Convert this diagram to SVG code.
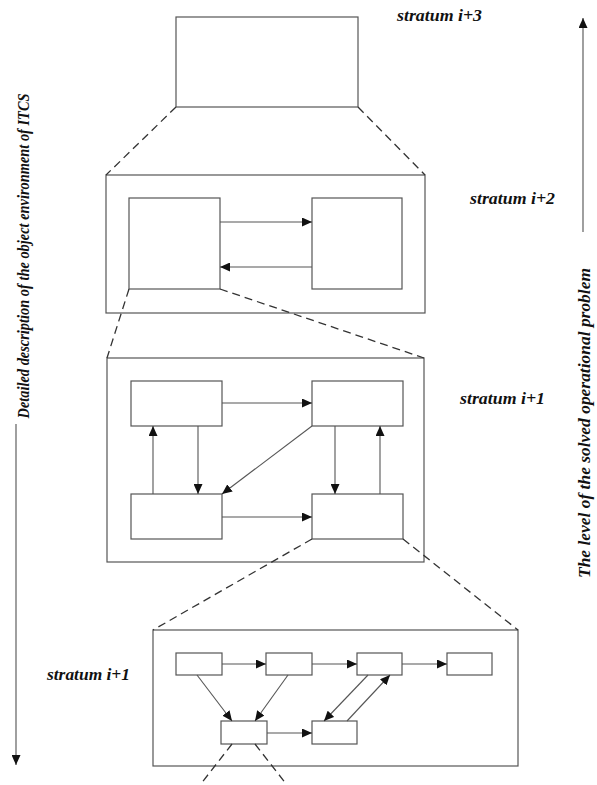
<svg xmlns="http://www.w3.org/2000/svg" width="597" height="785" viewBox="0 0 597 785">
<style>
.box{fill:#fff;stroke:#555;stroke-width:1.2}
.ar{fill:none;stroke:#555;stroke-width:1.1;marker-end:url(#ah)}
.axis{fill:none;stroke:#888;stroke-width:1.6;marker-end:url(#ah)}
.dash{fill:none;stroke:#333;stroke-width:1.3;stroke-dasharray:8 5}
.lbl{font-family:"Liberation Serif","Times New Roman",serif;font-weight:bold;font-style:italic;font-size:16px;fill:#111}
</style>
<defs>
<marker id="ah" markerUnits="userSpaceOnUse" markerWidth="11" markerHeight="9" refX="10" refY="4.5" orient="auto">
<path d="M0,0 L10,4.5 L0,9 z" fill="#111"/>
</marker>
</defs>
<rect width="597" height="785" fill="#fff"/>

<g id="labels">
<text class="lbl" x="397" y="21" textLength="85" lengthAdjust="spacingAndGlyphs">stratum i+3</text>
<text class="lbl" x="470" y="204" textLength="85" lengthAdjust="spacingAndGlyphs">stratum i+2</text>
<text class="lbl" x="460" y="404" textLength="85" lengthAdjust="spacingAndGlyphs">stratum i+1</text>
<text class="lbl" x="47" y="680" textLength="83" lengthAdjust="spacingAndGlyphs">stratum i+1</text>
<text class="lbl" transform="translate(29,256) rotate(-90)" text-anchor="middle" textLength="325" lengthAdjust="spacingAndGlyphs">Detailed description of the object environment of ITCS</text>
<text class="lbl" transform="translate(590,423) rotate(-90)" text-anchor="middle" textLength="310" lengthAdjust="spacingAndGlyphs">The level of the solved operational problem</text>
</g>

<g id="axes">
<line class="axis" x1="583" y1="232" x2="583" y2="18"/>
<line class="axis" x1="16" y1="424" x2="16" y2="765"/>
</g>

<g id="stratum3">
<rect id="s3-box" class="box" x="176" y="17" width="182" height="90"/>
</g>

<g id="stratum2">
<rect id="s2-frame" class="box" x="106" y="175" width="319" height="138"/>
<rect id="s2-a" class="box" x="129" y="198" width="91" height="91"/>
<rect id="s2-b" class="box" x="312" y="198" width="90" height="91"/>
</g>

<g id="stratum1">
<rect id="s1-frame" class="box" x="107" y="358" width="317" height="204"/>
<rect id="s1-tl" class="box" x="131" y="381" width="91" height="45"/>
<rect id="s1-tr" class="box" x="312" y="381" width="91" height="45"/>
<rect id="s1-bl" class="box" x="131" y="494" width="91" height="45"/>
<rect id="s1-br" class="box" x="312" y="494" width="91" height="45"/>
</g>

<g id="stratum0">
<rect id="s0-frame" class="box" x="153" y="630" width="365" height="136"/>
<rect id="s0-a" class="box" x="176" y="653" width="46" height="22"/>
<rect id="s0-b" class="box" x="266" y="653" width="46" height="22"/>
<rect id="s0-c" class="box" x="357" y="653" width="45" height="22"/>
<rect id="s0-d" class="box" x="447" y="653" width="45" height="22"/>
<rect id="s0-e" class="box" x="221" y="721" width="46" height="23"/>
<rect id="s0-f" class="box" x="312" y="721" width="45" height="23"/>
</g>

<g id="connectors">
<line class="dash" x1="176" y1="107" x2="106" y2="175"/>
<line class="dash" x1="358" y1="107" x2="425" y2="175"/>
<line class="dash" x1="129" y1="289" x2="107" y2="358"/>
<line class="dash" x1="220" y1="289" x2="424" y2="358"/>
<line class="dash" x1="312" y1="539" x2="153" y2="630"/>
<line class="dash" x1="403" y1="539" x2="518" y2="630"/>
<line class="dash" x1="232" y1="744" x2="200" y2="785"/>
<line class="dash" x1="255" y1="744" x2="287" y2="785"/>

<line class="ar" x1="220" y1="222" x2="312" y2="222"/>
<line class="ar" x1="312" y1="267" x2="220" y2="267"/>

<line class="ar" x1="222" y1="403" x2="312" y2="403"/>
<line class="ar" x1="222" y1="517" x2="312" y2="517"/>
<line class="ar" x1="153" y1="494" x2="153" y2="426"/>
<line class="ar" x1="198" y1="426" x2="198" y2="494"/>
<line class="ar" x1="335" y1="426" x2="335" y2="494"/>
<line class="ar" x1="380" y1="494" x2="380" y2="426"/>
<line class="ar" x1="312" y1="426" x2="222" y2="494"/>

<line class="ar" x1="222" y1="664" x2="266" y2="664"/>
<line class="ar" x1="312" y1="664" x2="357" y2="664"/>
<line class="ar" x1="402" y1="664" x2="447" y2="664"/>
<line class="ar" x1="267" y1="733" x2="312" y2="733"/>
<line class="ar" x1="197" y1="675" x2="232" y2="721"/>
<line class="ar" x1="288" y1="675" x2="255" y2="721"/>
<line class="ar" x1="368" y1="675" x2="324" y2="721"/>
<line class="ar" x1="347" y1="721" x2="390" y2="675"/>
</g>
</svg>
